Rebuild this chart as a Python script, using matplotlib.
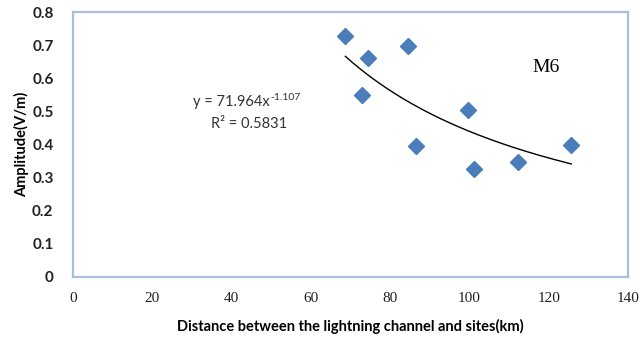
import numpy as np
import matplotlib
matplotlib.use("Agg")
import matplotlib.pyplot as plt

distance_km = [68.7, 72.8, 74.5, 84.6, 86.6, 99.7, 101.2, 112.3, 125.7]
amplitude = [0.728, 0.550, 0.662, 0.698, 0.396, 0.505, 0.326, 0.347, 0.399]
fit_a = 71.964
fit_b = -1.107
r2 = 0.5831
x_ticks = [0, 20, 40, 60, 80, 100, 120, 140]
y_ticks = [0, 0.1, 0.2, 0.3, 0.4, 0.5, 0.6, 0.7, 0.8]

fig = plt.figure(figsize=(6.43, 3.43), dpi=100)
ax = fig.add_axes([73/643, 1-277/343, 555/643, 265/343])

xf = np.linspace(min(distance_km), max(distance_km), 200)
ax.plot(xf, fit_a * xf ** fit_b, color="black", lw=1.0, zorder=2)
ax.plot(distance_km, amplitude, linestyle="none", marker="D", ms=8,
        color="#4a7ebb", mec="#4a7ebb", zorder=3)

ax.set_xlim(0, 140)
ax.set_ylim(0, 0.8)
ax.set_xticks(x_ticks)
ax.set_yticks(y_ticks)
ax.set_xticklabels([str(v) for v in x_ticks], family="Liberation Serif", fontsize=11, color="#222222")
ax.set_yticklabels([("0" if v == 0 else f"{v:.1f}") for v in y_ticks], family="Lato",
                   fontweight="bold", fontsize=11, color="#222222")
ax.tick_params(length=0)
ax.tick_params(axis="y", pad=14)
ax.tick_params(axis="x", pad=11)
for s in ax.spines.values():
    s.set_color("#a9bedc")
    s.set_linewidth(1.6)

ax.set_xlabel("Distance between the lightning channel and sites(km)", family="Lato",
              fontweight="bold", fontsize=10.5, labelpad=10)
ax.set_ylabel("Amplitude(V/m)", family="Lato", fontweight="bold", fontsize=10.5, labelpad=2)

t1 = ax.text(30.3, 0.528, f"y = {fit_a:.3f}x", ha="left", va="center",
             family="Lato", fontsize=10.5, color="#333333")
ax.annotate(f"{fit_b:.3f}", xy=(1, 0.85), xycoords=t1, xytext=(0.5, 0),
            textcoords="offset points", ha="left", va="center",
            family="Lato", fontsize=7.5, color="#333333")
ax.text(44.3, 0.463, f"R\u00b2 = {r2:.4f}", ha="center", va="center",
        family="Lato", fontsize=10.5, color="#333333")
ax.text(115.8, 0.632, "M6", family="Liberation Serif", fontsize=14, va="center", ha="left")

fig.savefig("out.png", dpi=100)
